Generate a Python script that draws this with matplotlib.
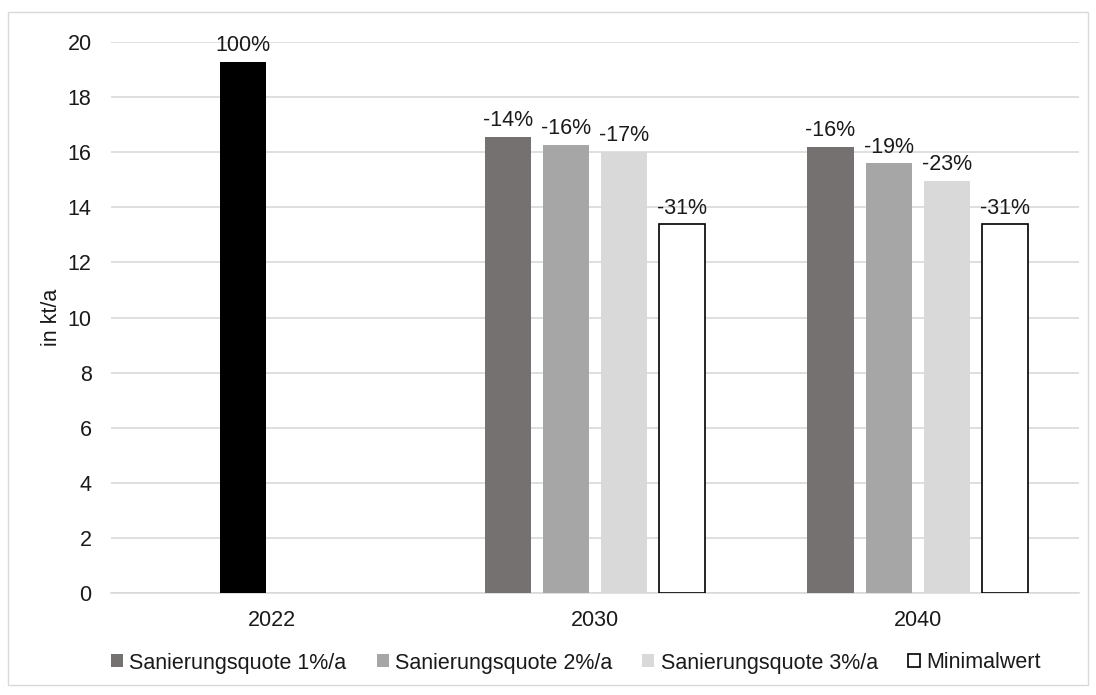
import numpy as np
import matplotlib.pyplot as plt
from matplotlib.patches import Rectangle

plt.rcParams['font.family'] = ['Liberation Sans', 'DejaVu Sans']

years = ['2022', '2030', '2040']
base_2022 = 19.28
series_names = ['Sanierungsquote 1%/a', 'Sanierungsquote 2%/a',
                'Sanierungsquote 3%/a', 'Minimalwert']
values_2030 = [16.56, 16.27, 16.02, 13.38]
values_2040 = [16.20, 15.59, 14.97, 13.38]
labels_2030 = ['-14%', '-16%', '-17%', '-31%']
labels_2040 = ['-16%', '-19%', '-23%', '-31%']

colors = ['#767171', '#a6a6a6', '#d9d9d9', 'white']
text_col = '#1a1a1a'
fs = 15.5

fig = plt.figure(figsize=(10.96, 6.95), dpi=100)
ax = fig.add_axes([111 / 1096, 1 - 593 / 695, 968 / 1096, 551 / 695])

width = 0.143
step = 0.18
x = np.arange(len(years))

def label(xp, yp, s):
    ax.annotate(s, (xp, yp), xytext=(0, 4), textcoords='offset points',
                ha='center', va='bottom', fontsize=fs, color=text_col)

# 2022 single bar (sits a bit left of the tick like in the original)
x22 = x[0] - 0.09
ax.bar(x22, base_2022, width=width, color='black', zorder=3)
label(x22, base_2022, '100%')

offsets = (np.arange(4) - 1.5) * step
for i in range(4):
    vals = [values_2030[i], values_2040[i]]
    labs = [labels_2030[i], labels_2040[i]]
    edge = 'black' if i == 3 else colors[i]
    ax.bar(x[1:] + offsets[i], vals, width=width, color=colors[i],
           edgecolor=edge, linewidth=1.2 if i == 3 else 0,
           label=series_names[i], zorder=3)
    for xi, v, l in zip(x[1:] + offsets[i], vals, labs):
        label(xi, v, l)

ax.set_xlim(-0.5, 2.5)
ax.set_ylim(0, 20)
ax.set_yticks(np.arange(0, 21, 2))
ax.set_xticks(x)
ax.set_xticklabels(years)
ax.tick_params(length=0, labelsize=fs, colors=text_col)
ax.tick_params(axis='x', pad=12)
ax.tick_params(axis='y', pad=14)
ax.grid(axis='y', color='#d9d9d9', linewidth=1.2, zorder=0)
for s in ['left', 'right', 'top']:
    ax.spines[s].set_visible(False)
ax.spines['bottom'].set_color('#d9d9d9')
ax.spines['bottom'].set_linewidth(1.2)
ax.set_ylabel('in kt/a', fontsize=fs, color=text_col, labelpad=4)

leg = fig.legend(loc='center', bbox_to_anchor=(576 / 1096, 1 - 663 / 695),
                 ncol=4, frameon=False, fontsize=fs, handlelength=0.55,
                 handleheight=0.55, handletextpad=0.3, columnspacing=1.4)
for t in leg.get_texts():
    t.set_color(text_col)

fig.patches.append(Rectangle((8 / 1096, 10 / 695), 1080 / 1096, 673 / 695,
                             transform=fig.transFigure, fill=False,
                             edgecolor='#d9d9d9', linewidth=1))

fig.savefig('out.png', dpi=100)
